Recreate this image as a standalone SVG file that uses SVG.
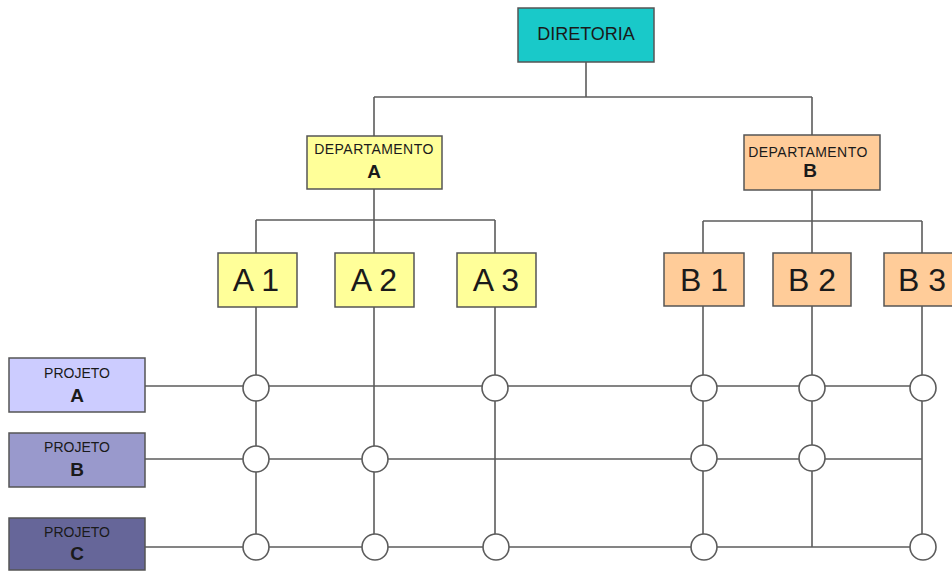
<svg xmlns="http://www.w3.org/2000/svg" width="952" height="572" viewBox="0 0 952 572">
  <style>
    .box { stroke: #555; stroke-width: 1.5; }
    .line { stroke: #5c5c5c; stroke-width: 1.6; fill: none; }
    .dot { fill: #fff; stroke: #5c5c5c; stroke-width: 1.6; }
    text { font-family: "Liberation Sans", Arial, sans-serif; fill: #1a1a1a; text-anchor: middle; }
    .small { font-size: 14px; }
    .dept { font-size: 14px; letter-spacing: 0.45px; }
    .mid { font-size: 19px; font-weight: bold; }
    .big { font-size: 32px; }
    .top { font-size: 18px; }
    .teal { fill: #19c9c9; }
    .yellow { fill: #ffff99; }
    .orange { fill: #ffcc99; }
    .p1 { fill: #ccccff; }
    .p2 { fill: #9999cc; }
    .p3 { fill: #666699; }
  </style>
  <rect width="952" height="572" fill="#fff"/>

  <!-- connectors -->
  <g id="connectors">
    <!-- hierarchy -->
    <path class="line" d="M586 62 V97 M374 97 H812 M374 97 V136 M812 97 V135"/>
    <path class="line" d="M374 189 V220 M256 220 H495 M256 220 V253 M374 220 V253 M495 220 V253"/>
    <path class="line" d="M812 190 V221 M703 221 H922 M703 221 V253 M812 221 V253 M922 221 V253"/>
    <!-- columns -->
    <path class="line" d="M256 307 V547 M374 307 V547 M495 307 V547 M703 306 V547 M812 306 V547 M922 306 V547"/>
    <!-- project rows -->
    <path class="line" d="M145 386 H922 M145 459 H922 M145 547 H922"/>
  </g>

  <!-- junctions -->
  <g id="junctions">
    <circle class="dot" cx="256" cy="388" r="13"/>
    <circle class="dot" cx="495" cy="388" r="13"/>
    <circle class="dot" cx="704" cy="388" r="13"/>
    <circle class="dot" cx="812" cy="388" r="13"/>
    <circle class="dot" cx="923" cy="388" r="13"/>

    <circle class="dot" cx="256" cy="459" r="13"/>
    <circle class="dot" cx="375" cy="459" r="13"/>
    <circle class="dot" cx="704" cy="458" r="13"/>
    <circle class="dot" cx="812" cy="458" r="13"/>

    <circle class="dot" cx="256" cy="547" r="13"/>
    <circle class="dot" cx="375" cy="547" r="13"/>
    <circle class="dot" cx="496" cy="547" r="13"/>
    <circle class="dot" cx="704" cy="547" r="13"/>
    <circle class="dot" cx="923" cy="547" r="13"/>
  </g>

  <g id="diretoria">
    <rect class="box teal" x="518" y="8" width="136" height="54"/>
    <text class="top" x="586" y="40">DIRETORIA</text>
  </g>

  <g id="dept-a">
    <rect class="box yellow" x="307" y="136" width="135" height="53"/>
    <text class="dept" x="374" y="154">DEPARTAMENTO</text>
    <text class="mid" x="374" y="178">A</text>
  </g>

  <g id="dept-b">
    <rect class="box orange" x="744" y="135" width="136" height="55"/>
    <text class="dept" x="808" y="157">DEPARTAMENTO</text>
    <text class="mid" x="810" y="177">B</text>
  </g>

  <g id="a1">
    <rect class="box yellow" x="218" y="253" width="79" height="54"/>
    <text class="big" x="256" y="291">A 1</text>
  </g>
  <g id="a2">
    <rect class="box yellow" x="335" y="253" width="79" height="54"/>
    <text class="big" x="374" y="291">A 2</text>
  </g>
  <g id="a3">
    <rect class="box yellow" x="457" y="253" width="79" height="54"/>
    <text class="big" x="496" y="291">A 3</text>
  </g>
  <g id="b1">
    <rect class="box orange" x="664" y="253" width="80" height="53"/>
    <text class="big" x="704" y="291">B 1</text>
  </g>
  <g id="b2">
    <rect class="box orange" x="773" y="253" width="78" height="53"/>
    <text class="big" x="812" y="291">B 2</text>
  </g>
  <g id="b3">
    <rect class="box orange" x="884" y="253" width="80" height="53"/>
    <text class="big" x="922" y="291">B 3</text>
  </g>

  <g id="projeto-a">
    <rect class="box p1" x="9" y="358" width="136" height="54"/>
    <text class="small" x="77" y="378">PROJETO</text>
    <text class="mid" x="77" y="402">A</text>
  </g>
  <g id="projeto-b">
    <rect class="box p2" x="9" y="433" width="136" height="54"/>
    <text class="small" x="77" y="452">PROJETO</text>
    <text class="mid" x="77" y="476">B</text>
  </g>
  <g id="projeto-c">
    <rect class="box p3" x="9" y="518" width="136" height="52"/>
    <text class="small" x="77" y="537">PROJETO</text>
    <text class="mid" x="77" y="560">C</text>
  </g>
</svg>
